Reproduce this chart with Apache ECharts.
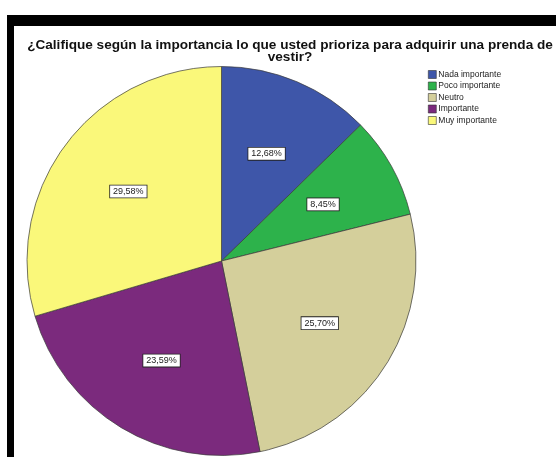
<!DOCTYPE html>
<html>
<head>
<meta charset="utf-8">
<script src="https://cdn.jsdelivr.net/npm/echarts@6/dist/echarts.min.js"></script>
<style>
    body { margin: 0; background: #fff; }
    #frame {
        position: absolute; left: 7px; top: 15px;
        width: 549px; height: 442px;
        border-left: 7px solid #000; border-top: 11px solid #000;
        box-sizing: border-box;
    }
    #chart { position: absolute; left: 0; top: 0; width: 556px; height: 457px; }
</style>
</head>
<body>
<div id="frame"></div>
<div id="chart"></div>
<script>
// datos
var categorias = ['Nada importante', 'Poco importante', 'Neutro', 'Importante', 'Muy importante'];
var porcentajes = [12.68, 8.45, 25.70, 23.59, 29.58];
var colores = ['#3e56a9', '#2db24b', '#d4cf9b', '#7b2a7d', '#faf87a'];

var titulo = '¿Califique según la importancia lo que usted prioriza para adquirir una prenda de\nvestir?';

var datos = categorias.map(function (c, i) {
    return { name: c, value: porcentajes[i], itemStyle: { color: colores[i] } };
});

var myChart = echarts.init(document.getElementById('chart'));

myChart.setOption({
    backgroundColor: 'transparent',
    animation: false,
    title: {
        text: titulo,
        left: 285,
        top: 34,
        textAlign: 'center',
        textStyle: {
            fontFamily: 'Liberation Sans, Arial, sans-serif',
            fontSize: 13.6,
            fontWeight: 'bold',
            color: '#111',
            lineHeight: 12,
            align: 'center'
        }
    },
    legend: {
        orient: 'vertical',
        left: 423,
        top: 65,
        itemWidth: 8,
        itemHeight: 8,
        itemGap: 2.5,
        icon: 'rect',
        data: categorias,
        itemStyle: { borderColor: '#333', borderWidth: 0.6 },
        textStyle: {
            fontFamily: 'Liberation Sans, Arial, sans-serif',
            fontSize: 8.5,
            color: '#222',
            padding: [0, 0, 0, -3]
        }
    },
    series: [
        {
            name: 'vestir',
            type: 'pie',
            center: [221.5, 261],
            radius: [0, 194.5],
            startAngle: 90,
            clockwise: true,
            data: datos,
            label: { show: false },
            labelLine: { show: false },
            itemStyle: { borderColor: '#3a3a3a', borderWidth: 0.7 },
            emphasis: { disabled: true }
        },
        {
            // capa transparente solo para colocar las etiquetas
            name: 'etiquetas',
            type: 'pie',
            center: [221.5, 261],
            radius: [32, 194.5],
            startAngle: 90,
            clockwise: true,
            silent: true,
            data: datos.map(function (d) { return { name: d.name, value: d.value }; }),
            itemStyle: { color: 'rgba(0,0,0,0)', borderWidth: 0 },
            label: {
                show: true,
                position: 'inside',
                formatter: function (p) {
                    return p.value.toFixed(2).replace('.', ',') + '%';
                },
                fontFamily: 'Liberation Sans, Arial, sans-serif',
                fontSize: 9,
                color: '#222',
                backgroundColor: '#fff',
                borderColor: '#222',
                borderWidth: 0.8,
                padding: [2, 3, 1, 3]
            },
            labelLine: { show: false },
            emphasis: { disabled: true }
        }
    ]
});
</script>
</body>
</html>
